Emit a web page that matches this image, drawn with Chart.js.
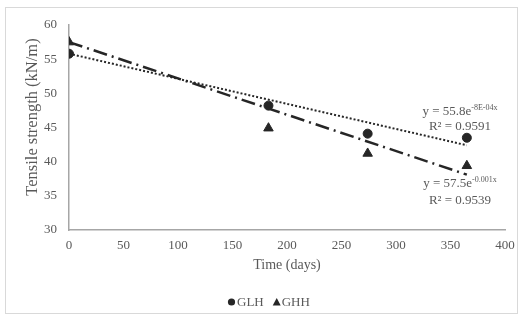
<!DOCTYPE html>
<html>
<head>
<meta charset="utf-8">
<script src="https://cdn.jsdelivr.net/npm/chart.js@4.4.1/dist/chart.umd.min.js"></script>
<style>
  html, body { margin: 0; padding: 0; background: #fff; }
  .frame { position: absolute; left: 5px; top: 7px; width: 511px; height: 305px; border: 1px solid #d9d9d9; }
  canvas { position: absolute; left: 0; top: 0; }
</style>
</head>
<body>
<div class="frame"></div>
<canvas id="chart" width="523" height="320"></canvas>
<script>
// data
const days = [0, 183, 274, 365];
const glh = [55.8, 48.2, 44.1, 43.5];
const ghh = [57.5, 44.9, 41.2, 39.4];
// trend line ends (as drawn)
const trendDays = [0, 365];
const glhTrend = [55.8, 42.4];
const ghhTrend = [57.5, 38.1];
const xTicks = [0, 50, 100, 150, 200, 250, 300, 350, 400];
const yTicks = [30, 35, 40, 45, 50, 55, 60];
const seriesNames = ["GLH", "GHH"];

const ink = "#262626";
const grey = "#595959";
const serif = "'Liberation Serif', 'Times New Roman', serif";

const pts = (xs, ys) => xs.map((x, i) => ({ x: x, y: ys[i] }));

// axis titles, trendline equations and legend
const decorations = {
  id: "decorations",
  afterDraw(chart) {
    const c = chart.ctx;
    const a = chart.chartArea;
    c.save();
    c.fillStyle = grey;

    // axis titles
    c.textAlign = "center";
    c.textBaseline = "middle";
    c.font = "14px " + serif;
    c.fillText("Time (days)", (a.left + a.right) / 2, a.bottom + 35);
    c.save();
    c.translate(a.left - 36, a.top + 92);
    c.rotate(-Math.PI / 2);
    c.font = "16.5px " + serif;
    c.fillText("Tensile strength (kN/m)", 0, 0);
    c.restore();

    // equations
    function eq(base, sup, r2, x, y, gap) {
      c.textAlign = "left";
      c.textBaseline = "alphabetic";
      c.font = "13px " + serif;
      const w1 = c.measureText(base).width;
      c.font = "8px " + serif;
      const w2 = c.measureText(sup).width;
      const sx = x - (w1 + w2) / 2;
      c.font = "13px " + serif;
      c.fillText(base, sx, y);
      c.font = "8px " + serif;
      c.fillText(sup, sx + w1, y - 5);
      c.font = "13px " + serif;
      c.textAlign = "center";
      c.fillText(r2, x, y + gap);
    }
    eq("y = 55.8e", "-8E-04x", "R\u00B2 = 0.9591", a.right - 45, a.top + 90, 15);
    eq("y = 57.5e", "-0.001x", "R\u00B2 = 0.9539", a.right - 45, a.top + 162, 17);

    // legend
    const ly = a.bottom + 72;
    let lx = 228;
    c.font = "13px " + serif;
    c.textAlign = "left";
    c.textBaseline = "middle";
    c.fillStyle = ink;
    c.beginPath();
    c.arc(lx + 3.5, ly, 3.6, 0, Math.PI * 2);
    c.fill();
    lx += 9;
    c.fillStyle = grey;
    c.fillText(seriesNames[0], lx, ly + 1);
    lx += c.measureText(seriesNames[0]).width + 9;
    c.fillStyle = ink;
    c.beginPath();
    c.moveTo(lx, ly + 3.5);
    c.lineTo(lx + 8, ly + 3.5);
    c.lineTo(lx + 4, ly - 4);
    c.closePath();
    c.fill();
    lx += 9;
    c.fillStyle = grey;
    c.fillText(seriesNames[1], lx, ly + 1);
    c.restore();
  }
};

new Chart(document.getElementById("chart"), {
  type: "scatter",
  data: {
    datasets: [
      {
        label: "GLH trend",
        data: pts(trendDays, glhTrend),
        showLine: true,
        borderColor: ink,
        borderWidth: 2,
        borderDash: [2, 2],
        pointRadius: 0,
      },
      {
        label: "GHH trend",
        data: pts(trendDays, ghhTrend),
        showLine: true,
        borderColor: ink,
        borderWidth: 2.5,
        borderDash: [14, 5, 2, 5],
        pointRadius: 0,
      },
      {
        label: seriesNames[0],
        data: pts(days, glh),
        pointStyle: "circle",
        pointRadius: 4.5,
        backgroundColor: ink,
        borderColor: ink,
      },
      {
        label: seriesNames[1],
        data: pts(days, ghh),
        pointStyle: "triangle",
        pointRadius: 5.5,
        backgroundColor: ink,
        borderColor: ink,
      },
    ],
  },
  options: {
    animation: false,
    responsive: false,
    layout: { padding: { left: 40, right: 18, top: 25, bottom: 60 } },
    scales: {
      x: {
        type: "linear",
        min: 0,
        max: 400,
        afterBuildTicks: (scale) => { scale.ticks = xTicks.map((v) => ({ value: v })); },
        afterFit: (scale) => { scale.height = 30; },
        grid: { display: false, drawTicks: false },
        border: { color: "#a6a6a6", width: 1.5 },
        ticks: { color: grey, font: { family: serif, size: 13 }, padding: 8 },
      },
      y: {
        min: 30,
        max: 60,
        afterBuildTicks: (scale) => { scale.ticks = yTicks.map((v) => ({ value: v })); },
        afterFit: (scale) => { scale.width = 29; },
        grid: { display: false, drawTicks: false },
        border: { color: "#a6a6a6", width: 1.5 },
        ticks: { color: grey, font: { family: serif, size: 13 }, padding: 12 },
      },
    },
    plugins: {
      legend: { display: false },
      tooltip: { enabled: false },
    },
  },
  plugins: [decorations],
});
</script>
</body>
</html>
